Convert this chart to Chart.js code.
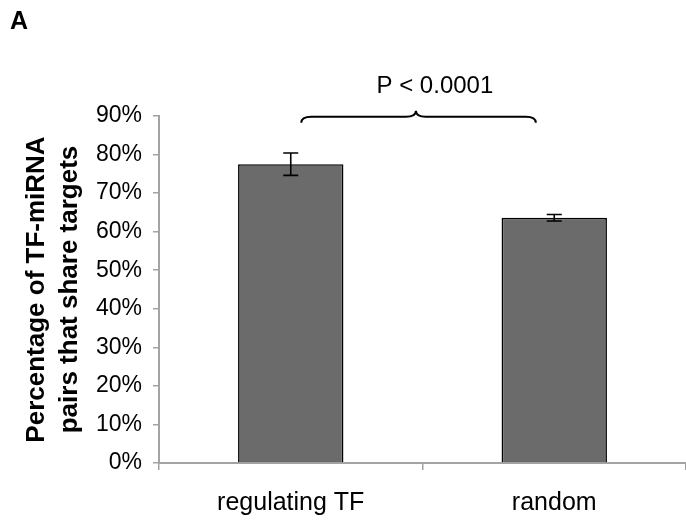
<!DOCTYPE html>
<html>
<head>
<meta charset="utf-8">
<script src="https://cdn.jsdelivr.net/npm/chart.js@4/dist/chart.umd.min.js"></script>
<style>
  html, body { margin: 0; padding: 0; background: #ffffff; }
  #wrap { position: relative; width: 686px; height: 529px; }
</style>
</head>
<body>
<div id="wrap"><canvas id="c" width="686" height="529"></canvas></div>
<script>
// ---- data ----
const categories = ['regulating TF', 'random'];
const percentages = [77.5, 63.6];
const errors = [2.9, 0.85];
const yTitleLines = ['Percentage of TF-miRNA', 'pairs that share targets'];
const panelLabel = 'A';
const pValueText = 'P < 0.0001';
const yMin = 0, yMax = 90, yStep = 10;

Chart.defaults.font.family = "'Liberation Sans', Arial, Helvetica, sans-serif";
Chart.defaults.color = '#000000';

const AXIS_GRAY = '#a3a3a3';

const annotations = {
  id: 'annotations',
  afterDatasetsDraw(chart) {
    const ctx = chart.ctx;
    const xs = chart.scales.x, ys = chart.scales.y;
    const meta = chart.getDatasetMeta(0);
    ctx.save();
    // error bars
    ctx.strokeStyle = '#000';
    ctx.lineWidth = 1.6;
    meta.data.forEach((bar, i) => {
      const x = bar.x;
      const yHi = ys.getPixelForValue(percentages[i] + errors[i]);
      const yLo = ys.getPixelForValue(percentages[i] - errors[i]);
      const cap = 7.5;
      ctx.beginPath();
      ctx.moveTo(x, yHi); ctx.lineTo(x, yLo);
      ctx.moveTo(x - cap, yHi); ctx.lineTo(x + cap, yHi);
      ctx.moveTo(x - cap, yLo); ctx.lineTo(x + cap, yLo);
      ctx.stroke();
    });
    // brace
    const xl = xs.getPixelForValue(0.04);
    const xr = xs.getPixelForValue(0.93);
    const xm = xs.getPixelForValue(0.475);
    const yb = ys.getPixelForValue(89.8);
    ctx.lineWidth = 2;
    ctx.beginPath();
    ctx.moveTo(xl, yb + 6);
    ctx.quadraticCurveTo(xl, yb, xl + 10, yb);
    ctx.lineTo(xm - 10, yb);
    ctx.quadraticCurveTo(xm, yb, xm, yb - 6);
    ctx.quadraticCurveTo(xm, yb, xm + 10, yb);
    ctx.lineTo(xr - 10, yb);
    ctx.quadraticCurveTo(xr, yb, xr, yb + 6);
    ctx.stroke();
    // p-value text
    ctx.fillStyle = '#000';
    ctx.font = "24px 'Liberation Sans', Arial, sans-serif";
    ctx.textAlign = 'center';
    ctx.textBaseline = 'alphabetic';
    ctx.fillText(pValueText, xs.getPixelForValue(0.547), yb - 24);
    // panel label
    ctx.font = "bold 25px 'Liberation Sans', Arial, sans-serif";
    ctx.textAlign = 'left';
    ctx.fillText(panelLabel, 10, 29);
    ctx.restore();
  }
};

new Chart(document.getElementById('c'), {
  type: 'bar',
  data: {
    labels: categories,
    datasets: [{
      data: percentages,
      backgroundColor: '#6b6b6b',
      borderColor: '#000000',
      borderWidth: 1.6,
      categoryPercentage: 1.0,
      barPercentage: 0.4
    }]
  },
  options: {
    responsive: false,
    animation: false,
    devicePixelRatio: 1,
    layout: { padding: { top: 116, left: 0, right: 0, bottom: 0 } },
    plugins: { legend: { display: false }, tooltip: { enabled: false } },
    scales: {
      x: {
        offset: true,
        grid: { offset: true, drawOnChartArea: false, drawTicks: true, tickLength: 7, color: AXIS_GRAY, lineWidth: 1.5 },
        border: { color: AXIS_GRAY, width: 2 },
        ticks: { font: { size: 25 }, color: '#000', padding: 18 },
        afterFit(scale) { scale.height = 66; }
      },
      y: {
        min: yMin, max: yMax,
        grid: { drawOnChartArea: false, drawTicks: true, tickLength: 6, color: AXIS_GRAY, lineWidth: 1.5 },
        border: { color: AXIS_GRAY, width: 2 },
        ticks: { stepSize: yStep, font: { size: 23 }, color: '#000', padding: 11,
                 callback: v => v + '%' },
        title: { display: true, text: yTitleLines, font: { size: 26, weight: 'bold', lineHeight: 1.25 },
                 color: '#000', padding: { top: 21, bottom: 0 } },
        afterFit(scale) { scale.width = 159; }
      }
    }
  },
  plugins: [annotations]
});
</script>
</body>
</html>
